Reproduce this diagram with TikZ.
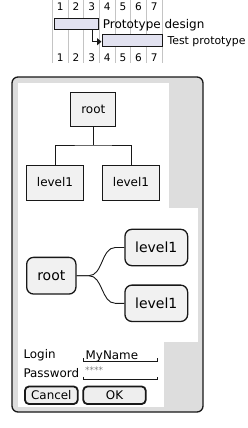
\documentclass[tikz,border=0pt]{standalone}
\usepackage{fontspec}
\setmainfont{DejaVu Sans}
\usetikzlibrary{arrows.meta}
\definecolor{boxgray}{HTML}{DDDDDD}
\definecolor{nodefill}{HTML}{F1F1F1}
\definecolor{barfill}{HTML}{E2E2F0}
\definecolor{ink}{HTML}{181818}
\definecolor{gridc}{HTML}{C4C4C4}
\definecolor{btnfill}{HTML}{EEEEEE}
\definecolor{stargray}{HTML}{808080}
\tikzset{
  gridline/.style={draw=gridc, line width=0.8pt},
  daynum/.style={inner sep=0pt, font=\fontsize{10.5}{12}\selectfont},
  taskbar/.style={draw=ink, fill=barfill, line width=1pt, inner sep=0pt},
  tasklabel/.style={inner sep=0pt, anchor=base west},
  treebox/.style={draw=ink, fill=nodefill, line width=1pt, inner sep=0pt, font=\fontsize{12}{14}\selectfont},
  treeline/.style={draw=ink, line width=1pt},
  mmbox/.style={draw=ink, fill=nodefill, line width=1.3pt, rounded corners=7pt, inner sep=0pt, font=\fontsize{14}{16}\selectfont},
  mmline/.style={draw=ink, line width=0.9pt},
  saltlabel/.style={inner sep=0pt, anchor=west, font=\fontsize{11.9}{14}\selectfont},
  saltbtn/.style={draw=ink, fill=btnfill, line width=1.8pt, rounded corners=4pt, inner sep=0pt, font=\fontsize{11.9}{14}\selectfont},
  fieldline/.style={draw=ink, line width=1pt},
  deparrow/.style={draw=ink, line width=1.2pt, -{Triangle[length=4.5pt,width=7pt]}}
}
\begin{document}
\begin{tikzpicture}[x=1pt,y=-1pt]
\useasboundingbox (0,0) rectangle (247,428);
\fill[white] (0,0) rectangle (247,428);

% ---------- Gantt ----------
\foreach \i in {0,...,7}
  \draw[gridline] (52.5+15.64*\i,0) -- (52.5+15.64*\i,63);
\foreach \i in {1,...,7} {
  \node[daynum, fill=white, inner xsep=0.5pt] (top\i) at (52.5+15.64*\i-7.82,6.8) {\i};
  \node[daynum, fill=white, inner xsep=0.5pt] (bot\i) at (52.5+15.64*\i-7.82,57.5) {\i};
}
\node[taskbar, minimum width=44.7pt, minimum height=11.7pt] (bar1) at (76.35,24.15) {};
\node[taskbar, minimum width=60.5pt, minimum height=12.4pt] (bar2) at (132.25,40.5) {};
\node[tasklabel, font=\fontsize{12}{14}\selectfont] (lab1) at (102.7,29) {Prototype design};
\node[tasklabel, font=\fontsize{10.9}{13}\selectfont] (lab2) at (167.3,44.6) {Test prototype};
\draw[deparrow] ([xshift=-6.5pt]bar1.south east) |- ([yshift=-1.2pt]bar2.west);

% ---------- Frame ----------
\draw[draw=ink, fill=boxgray, line width=1.3pt, rounded corners=6pt] (12,77) rectangle (203,412);
\fill[white] (18,83) rectangle (169,208.3);
\fill[white] (18,208.3) rectangle (198,341.7);
\fill[white] (18,341.7) rectangle (164.3,407);

% ---------- WBS tree ----------
\node[treebox, minimum width=44.7pt, minimum height=33.7pt] (troot) at (93.3,109.2) {root};
\node[treebox, minimum width=56.6pt, minimum height=35pt] (tl1) at (55,182.5) {level1};
\node[treebox, minimum width=56.6pt, minimum height=35pt] (tl2) at (131,182.5) {level1};
\coordinate (tj) at (93.3,145);
\draw[treeline] (troot.south) -- (tj);
\draw[treeline] (tl1.north) |- (tj) -| (tl2.north);

% ---------- Mind map ----------
\node[mmbox, minimum width=49.3pt, minimum height=36.7pt] (mroot) at (51.3,275.7) {root};
\node[mmbox, minimum width=62.7pt, minimum height=36.4pt] (ma) at (156.3,247.5) {level1};
\node[mmbox, minimum width=62.7pt, minimum height=36.4pt] (mb) at (156.3,303.3) {level1};
\draw[mmline] (mroot.east) -- ++(12.3,0) .. controls +(14,0) and ([xshift=-23pt]ma.west) .. ([xshift=-9pt]ma.west) -- (ma.west);
\draw[mmline] (mroot.east) -- ++(12.3,0) .. controls +(14,0) and ([xshift=-23pt]mb.west) .. ([xshift=-9pt]mb.west) -- (mb.west);

% ---------- Salt form ----------
\node[saltlabel] (login) at (23.3,355) {Login};
\node[saltlabel] (pwd) at (23.3,372.7) {Password};
\node[inner sep=0pt, anchor=base west, font=\fontsize{11.9}{14}\selectfont] (myname) at (85.5,359.3) {MyName};
\draw[fieldline] (83.3,358.3) -- (83.3,361) -- (157.7,361) -- (157.7,358.3);
\node[inner sep=0pt, anchor=west, text=stargray, font=\fontsize{9}{10}\selectfont] (stars) at (85,370.5) {****};
\draw[fieldline] (83.3,376.7) -- (83.3,379.3) -- (157.7,379.3) -- (157.7,376.7);
\node[saltbtn, minimum width=52.7pt, minimum height=17.5pt] (cancel) at (51.35,395.25) {Cancel};
\node[saltbtn, minimum width=62.4pt, minimum height=17.5pt] (ok) at (114.5,395.25) {OK};
\end{tikzpicture}
\end{document}
